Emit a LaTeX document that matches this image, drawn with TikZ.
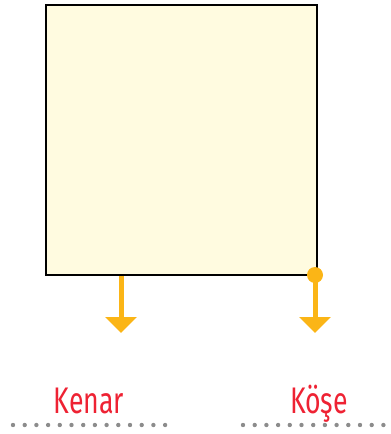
\documentclass[tikz,border=0pt]{standalone}
\usepackage{fontspec}
\setmainfont{Fira Sans}
\usetikzlibrary{arrows.meta}
\definecolor{sqfill}{HTML}{FFFBE0}
\definecolor{arrorange}{HTML}{FBB516}
\definecolor{lblred}{HTML}{EE2233}
\definecolor{dotgray}{HTML}{8C8C8C}
\tikzset{
  sqbox/.style={draw=black, line width=1.2pt, fill=sqfill, minimum width=271pt, minimum height=270pt, inner sep=0pt, outer sep=0pt},
  orarrow/.style={draw=arrorange, line width=5pt, -{Triangle[width=31pt,length=16pt]}},
  lbl/.style={text=lblred, font=\fontsize{37}{40}\selectfont, inner sep=0pt, anchor=base, xscale=0.72},
  gdot/.style={fill=dotgray, draw=none}
}
\begin{document}
\begin{tikzpicture}[x=1pt,y=-1pt]
\useasboundingbox (0,0) rectangle (391,434);
\node[sqbox, anchor=north west] (sq) at (46,5) {};
\coordinate (e1) at (121,276);
\coordinate (t1) at (121,333);
\coordinate (c2) at (315,275);
\coordinate (t2) at (315,333);
\draw[orarrow] (e1) -- (t1);
\draw[orarrow] (c2) -- (t2);
\fill[arrorange] (c2) circle (8pt);
\node[lbl] (kenar) at (89,413) {Kenar};
\node[lbl] (kose) at (319,413) {Köşe};
\foreach \i in {0,...,13} {\fill[gdot] (13+\i*11.7,425) circle (2.2pt);}
\foreach \i in {0,...,12} {\fill[gdot] (243+\i*11.7,425) circle (2.2pt);}
\end{tikzpicture}
\end{document}
